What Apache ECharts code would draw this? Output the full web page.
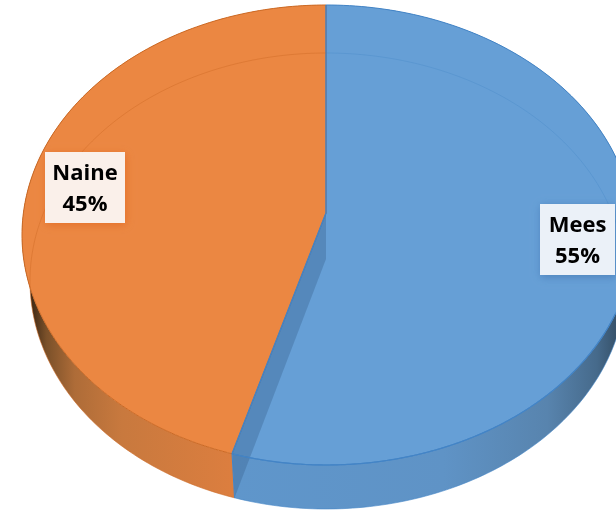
<!DOCTYPE html>
<html><head><meta charset="utf-8">
<style>html,body{margin:0;padding:0;background:#fff}#c{width:616px;height:510px}</style>
<script src="https://cdn.jsdelivr.net/npm/echarts@6/dist/echarts.min.js"></script>
</head><body><div id="c"></div>
<script>
const categories = ['Mees', 'Naine'];
const seriesValues = [55, 45];

const rows = categories.map((c, i) => [c, seriesValues[i]]);
const total = seriesValues.reduce((a, b) => a + b, 0);
const TOP = {cx: 326, cy: 235, rxL: 304, rxR: 308, ry: 230, apexY: 213};
const BOT = {cx: 326, cy: 281, rxL: 296, rxR: 300, ry: 228, apexY: 259};
const G = echarts.graphic.LinearGradient;

const topFill = ['#669FD6', '#EB8742'];
const topEdge = ['#4384C6', '#CC6A25'];
const ringCol = ['rgba(62,128,194,0.28)', 'rgba(201,101,31,0.38)'];
const sideFill = [
  new G(233, 0, 616, 0, [
    {offset: 0, color: '#5F96CB'}, {offset: 0.55, color: '#5F93C6'},
    {offset: 0.82, color: '#5884AE'}, {offset: 0.95, color: '#466A8B'}, {offset: 1, color: '#37536C'}], true),
  new G(30, 0, 233, 0, [
    {offset: 0, color: '#3A2614'}, {offset: 0.08, color: '#7A5029'}, {offset: 0.22, color: '#AE6C38'},
    {offset: 0.45, color: '#C8793E'}, {offset: 1, color: '#DC7E3F'}], true)
];
const labelFill = ['#EBF1F8', '#FAF0EA'];
const labelShadow = ['rgba(60,110,170,0.6)', 'rgba(225,105,35,0.75)'];
const labelBox = [{x: 540, y: 204, w: 75, h: 71}, {x: 45, y: 152, w: 80, h: 71}];

function span(i) {
  let a = 0;
  for (let k = 0; k < i; k++) a += seriesValues[k];
  return [a / total * 360, (a + seriesValues[i]) / total * 360];
}
function pt(e, deg) {
  const r = deg * Math.PI / 180, s = Math.sin(r);
  return [e.cx + (s >= 0 ? e.rxR : e.rxL) * s, e.cy - e.ry * Math.cos(r)];
}
function arc(e, a, b) {
  const out = [], n = 180;
  for (let k = 0; k <= n; k++) out.push(pt(e, a + (b - a) * k / n));
  return out;
}
const poly = (points, style) => ({type: 'polygon', silent: true, shape: {points}, style});
const line = (points, stroke, lineWidth) => ({type: 'polyline', silent: true, shape: {points}, style: {stroke, lineWidth, fill: null}});

function renderSide(p, api) {
  const i = p.dataIndex, [a, b] = span(i);
  return {type: 'group', children: [
    poly(arc(TOP, a, b).concat(arc(BOT, a, b).reverse()), {fill: sideFill[i]}),
    line(arc(BOT, a, b), topEdge[i], 0.6)
  ]};
}
function renderTop(p, api) {
  const i = p.dataIndex, [a, b] = span(i);
  return poly([[TOP.cx, TOP.apexY]].concat(arc(TOP, a, b)), {fill: topFill[i], stroke: topEdge[i], lineWidth: 1});
}
function renderWall(p, api) {
  const i = p.dataIndex, [a, b] = span(i);
  const kids = [];
  // ring of the far base ellipse, seen through the glassy top
  const from = i === 0 ? 0 : 268, to = i === 0 ? 78 : 360;
  kids.push(line(arc(BOT, from, to), ringCol[i], 1));
  if (i === 0) {
    const e = b; // shared cut edge
    kids.push(poly([[TOP.cx, TOP.apexY], [BOT.cx, BOT.apexY], pt(BOT, e), pt(TOP, e)],
      {fill: 'rgba(62,105,150,0.42)'}));
    kids.push(line([pt(TOP, e), [TOP.cx, TOP.apexY], [TOP.cx, TOP.cy - TOP.ry]], topEdge[i], 1.4));
    kids.push(line([pt(TOP, e), pt(BOT, e)], topEdge[i], 1));
    kids.push(line(arc(TOP, 110, e), topEdge[i], 1.2));
  }
  return {type: 'group', children: kids};
}
function renderLabel(p, api) {
  const i = p.dataIndex, box = labelBox[i];
  const pct = Math.round(api.value(1) / total * 100);
  return {type: 'group', children: [
    {type: 'rect', silent: true, shape: {x: box.x, y: box.y, width: box.w, height: box.h},
      style: {fill: labelFill[i], shadowBlur: 8, shadowColor: labelShadow[i], shadowOffsetX: 1, shadowOffsetY: 2}},
    {type: 'text', silent: true, style: {
      text: categories[i] + '\n' + pct + '%', x: box.x + box.w / 2, y: box.y + box.h / 2 + 2,
      align: 'center', verticalAlign: 'middle', lineHeight: 31,
      font: 'bold 22px "Open Sans"', fill: '#000'}}
  ]};
}
const layer = (name, renderItem, z) => ({type: 'custom', name, coordinateSystem: 'none', renderItem, data: rows, z, animation: false, clip: false, encode: {value: 1}});

const chart = echarts.init(document.getElementById('c'), null, {renderer: 'canvas'});
chart.setOption({
  backgroundColor: '#fff',
  animation: false,
  series: [
    layer('sides', renderSide, 1),
    layer('tops', renderTop, 2),
    layer('walls', renderWall, 3),
    layer('labels', renderLabel, 4)
  ]
});
</script></body></html>
